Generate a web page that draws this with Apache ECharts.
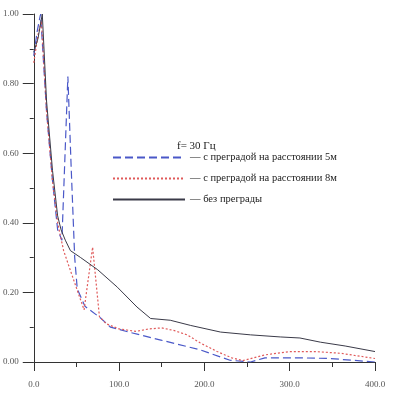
<!DOCTYPE html>
<html><head><meta charset="utf-8">
<script src="https://cdn.jsdelivr.net/npm/echarts@6/dist/echarts.min.js"></script>
<style>html,body{margin:0;padding:0;background:#fff}#c{width:403px;height:413px}</style>
</head><body><div id="c"></div>
<script>
const seriesNames = ['с преградой на расстоянии 5м', 'с преградой на расстоянии 8м', 'без преграды'];
const titleText = 'f= 30 Гц';
const xTicks = [0, 100, 200, 300, 400];
const yTicks = [0, 0.2, 0.4, 0.6, 0.8, 1.0];

const blue5m = [[0,0.88],[4,0.95],[8,1.0],[15,0.72],[22,0.52],[28,0.38],[33,0.35],[40,0.82],[44,0.55],[48,0.30],[51,0.21],[60,0.16],[78,0.127],[90,0.10],[113,0.085],[149,0.063],[195,0.035],[230,0.005],[254,0.0],[271,0.012],[312,0.012],[347,0.01],[400,0.0]];
const red8m = [[0,0.86],[5,0.94],[9,0.98],[15,0.72],[22,0.52],[28,0.40],[35,0.32],[42,0.27],[49,0.22],[59,0.15],[69,0.33],[77,0.13],[85,0.11],[100,0.095],[120,0.088],[135,0.095],[150,0.098],[165,0.09],[180,0.078],[195,0.055],[215,0.03],[232,0.012],[245,0.004],[270,0.02],[300,0.03],[330,0.03],[360,0.025],[400,0.01]];
const noBarrier = [[0,0.89],[5,0.93],[10,1.0],[15,0.75],[22,0.55],[28,0.42],[32,0.38],[37,0.35],[43,0.32],[55,0.30],[75,0.265],[98,0.215],[121,0.158],[137,0.125],[160,0.12],[184,0.105],[219,0.086],[254,0.078],[289,0.072],[312,0.069],[336,0.057],[365,0.046],[400,0.03]];

const font = 'Liberation Serif';
const chart = echarts.init(document.getElementById('c'), null, {renderer:'canvas'});
chart.setOption({
  animation:false,
  backgroundColor:'#fff',
  grid:{left:33,right:28,top:14,bottom:51,containLabel:false},
  title:{text:titleText,left:172,top:136,textStyle:{fontFamily:font,fontSize:11,fontWeight:'normal',color:'#222'}},
  legend:{orient:'vertical',left:107,top:147,itemWidth:72,itemHeight:10,itemGap:10,
    data:seriesNames,
    itemStyle:{opacity:0},
    formatter:n=>'— '+n,
    textStyle:{fontFamily:font,fontSize:10.5,color:'#222'}},
  xAxis:{type:'value',min:xTicks[0],max:xTicks[xTicks.length-1],interval:100,
    axisLine:{lineStyle:{color:'#333',width:1}},
    axisTick:{length:9,lineStyle:{color:'#333'}},
    minorTick:{show:true,splitNumber:2,length:5,lineStyle:{color:'#333'}},
    splitLine:{show:false},
    axisLabel:{margin:18,fontFamily:font,fontSize:9,color:'#555',formatter:v=>v.toFixed(1)}},
  yAxis:{type:'value',min:yTicks[0],max:yTicks[yTicks.length-1],interval:0.2,
    axisLine:{show:true,lineStyle:{color:'#333',width:1}},
    axisTick:{show:true,length:11,lineStyle:{color:'#333'}},
    minorTick:{show:true,splitNumber:2,length:4,lineStyle:{color:'#333'}},
    splitLine:{show:false},
    axisLabel:{margin:15,fontFamily:font,fontSize:9,color:'#555',formatter:v=>v.toFixed(2)}},
  series:[
    {name:seriesNames[0],type:'line',data:blue5m,symbol:'none',lineStyle:{color:'#4a58c8',width:1.2,type:[8,4]},itemStyle:{color:'#4a58c8'}},
    {name:seriesNames[1],type:'line',data:red8m,symbol:'none',lineStyle:{color:'#e05a5a',width:1.2,type:[2,2]},itemStyle:{color:'#e05a5a'}},
    {name:seriesNames[2],type:'line',data:noBarrier,symbol:'none',lineStyle:{color:'#3a3a48',width:1},itemStyle:{color:'#3a3a48'}}
  ]
});
</script></body></html>
